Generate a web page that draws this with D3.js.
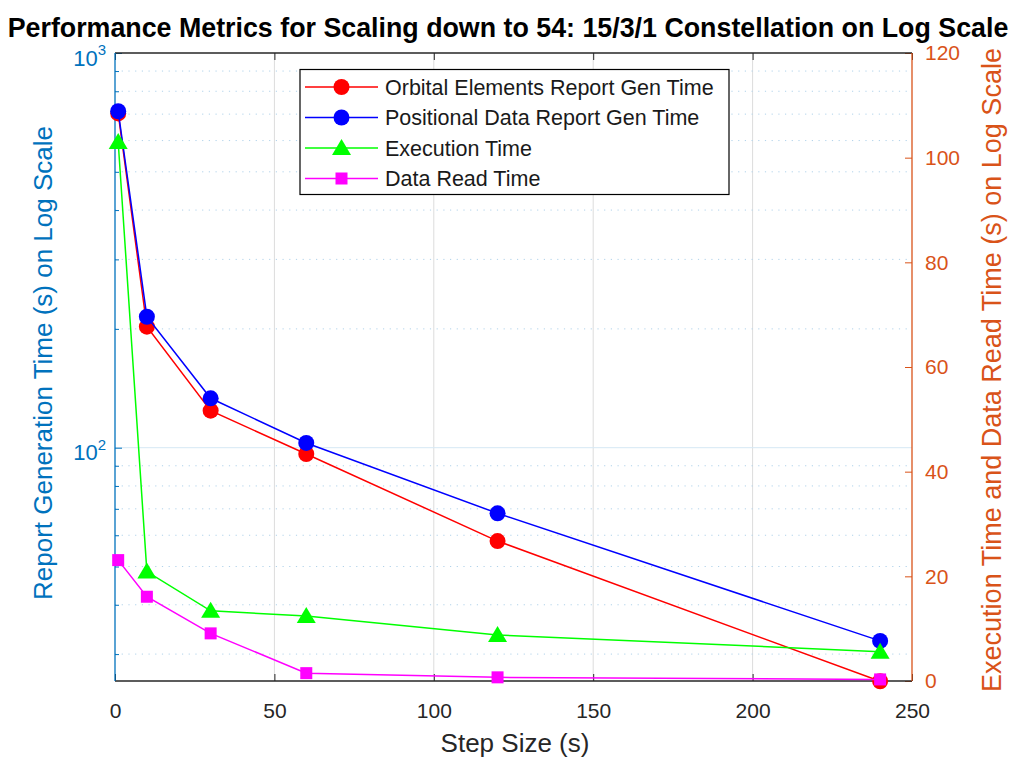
<!DOCTYPE html>
<html><head><meta charset="utf-8">
<script src="https://cdn.jsdelivr.net/npm/d3@7"></script>
<style>
body{margin:0;background:#fff}
text{font-family:"Liberation Sans",Arial,Helvetica,sans-serif}
</style>
</head><body><svg id="c" width="1015" height="758"></svg>
<script>
// ---- data ----
const stepSizes = [1, 10, 30, 60, 120, 240];
const orbitalGen = [703, 202.6, 124.1, 96.4, 58.0, 25.6];
const positionalGen = [712, 214.7, 133.4, 102.8, 68.2, 32.4];
const executionTime = [103.0, 20.9, 13.4, 12.4, 8.8, 5.6];
const dataReadTime = [23.1, 16.1, 9.1, 1.5, 0.7, 0.3];
const xTicks = [0, 50, 100, 150, 200, 250];
const leftMajorTicks = [100, 1000];
const leftMinorTicks = [30, 40, 50, 60, 70, 80, 90, 200, 300, 400, 500, 600, 700, 800, 900];
const rightTicks = [0, 20, 40, 60, 80, 100, 120];
const seriesNames = ["Orbital Elements Report Gen Time", "Positional Data Report Gen Time", "Execution Time", "Data Read Time"];
const titleText = "Performance Metrics for Scaling down to 54: 15/3/1 Constellation on Log Scale";
const xLabel = "Step Size (s)";
const leftLabel = "Report Generation Time (s) on Log Scale";
const rightLabel = "Execution Time and Data Read Time (s) on Log Scale";

// ---- layout ----
const L = 115, R = 912, T = 53, B = 681;
const leftColor = "#0072BD", rightColor = "#D95319", axisGray = "#262626";
const svg = d3.select("#c");
svg.append("rect").attr("width", 1015).attr("height", 758).attr("fill", "#fff");

const x = d3.scaleLinear().domain([0, 250]).range([L, R]);
const yL = d3.scaleLog().domain([25.64, 1000]).range([B, T]);
const yR = d3.scaleLinear().domain([0, 120]).range([B, T]);

// ---- grid ----
const grid = svg.append("g");
grid.selectAll(".vg").data(xTicks.filter(d => d > 0 && d < 250)).join("line")
  .attr("x1", d => x(d)).attr("x2", d => x(d)).attr("y1", T).attr("y2", B)
  .attr("stroke", "#dcdcdc").attr("stroke-width", 1);
grid.selectAll(".mg").data(leftMinorTicks).join("line")
  .attr("x1", L).attr("x2", R).attr("y1", d => yL(d)).attr("y2", d => yL(d))
  .attr("stroke", "#b0d2ea").attr("stroke-width", 1).attr("stroke-dasharray", "1.2 5.5");
grid.selectAll(".hg").data(leftMajorTicks.filter(d => d < 1000)).join("line")
  .attr("x1", L).attr("x2", R).attr("y1", d => yL(d)).attr("y2", d => yL(d))
  .attr("stroke", "#d6e8f4").attr("stroke-width", 1);

// ---- axes ----
function styleAxis(g, color) {
  g.select(".domain").remove();
  g.selectAll(".tick line").attr("stroke", color).attr("stroke-width", 1);
  g.selectAll(".tick text").attr("fill", color).attr("font-family", '"Liberation Sans",Arial,sans-serif').attr("font-size", 21);
}
const xb = svg.append("g").attr("transform", `translate(0,${B})`)
  .call(d3.axisBottom(x).tickValues(xTicks).tickSizeInner(-7).tickSizeOuter(0).tickPadding(22).tickFormat(d3.format("d")));
styleAxis(xb, axisGray);
const xt = svg.append("g").attr("transform", `translate(0,${T})`)
  .call(d3.axisTop(x).tickValues(xTicks).tickSizeInner(-7).tickSizeOuter(0).tickFormat(""));
styleAxis(xt, axisGray);

const yl = svg.append("g").attr("transform", `translate(${L},0)`)
  .call(d3.axisLeft(yL).tickValues(leftMajorTicks).tickSizeInner(-7).tickSizeOuter(0).tickPadding(9).tickFormat(d => d));
styleAxis(yl, leftColor);
yl.selectAll(".tick text").each(function(d) {
  const t = d3.select(this);
  t.text("").attr("dy", "0.55em").attr("font-size", 22);
  t.append("tspan").text("10");
  t.append("tspan").attr("dy", -10.5).attr("font-size", 15).text(Math.round(Math.log10(d)));
});
const ylm = svg.append("g").attr("transform", `translate(${L},0)`)
  .call(d3.axisLeft(yL).tickValues(leftMinorTicks).tickSizeInner(-4).tickSizeOuter(0).tickFormat(""));
styleAxis(ylm, leftColor);

const yr = svg.append("g").attr("transform", `translate(${R},0)`)
  .call(d3.axisRight(yR).tickValues(rightTicks).tickSizeInner(-7).tickSizeOuter(0).tickPadding(13));
styleAxis(yr, rightColor);

// axis lines
svg.append("line").attr("x1", L).attr("x2", R).attr("y1", B).attr("y2", B).attr("stroke", axisGray).attr("stroke-width", 1.3);
svg.append("line").attr("x1", L).attr("x2", R).attr("y1", T).attr("y2", T).attr("stroke", axisGray).attr("stroke-width", 1.3);
svg.append("line").attr("x1", L).attr("x2", L).attr("y1", T).attr("y2", B).attr("stroke", leftColor).attr("stroke-width", 1.3);
svg.append("line").attr("x1", R).attr("x2", R).attr("y1", T).attr("y2", B).attr("stroke", rightColor).attr("stroke-width", 1.3);

// ---- series ----
const triPath = "M0,-9L9.5,7L-9.5,7Z";
const series = [
  { name: seriesNames[0], vals: orbitalGen, y: yL, color: "#FF0000", marker: "circle" },
  { name: seriesNames[1], vals: positionalGen, y: yL, color: "#0000FF", marker: "circle" },
  { name: seriesNames[2], vals: executionTime, y: yR, color: "#00FF00", marker: "tri" },
  { name: seriesNames[3], vals: dataReadTime, y: yR, color: "#FF00FF", marker: "square" }
];
function drawMarker(g, kind, color) {
  if (kind === "circle") g.append("circle").attr("r", 8).attr("fill", color);
  else if (kind === "tri") g.append("path").attr("d", triPath).attr("fill", color);
  else g.append("rect").attr("x", -6).attr("y", -6).attr("width", 12).attr("height", 12).attr("fill", color);
}
series.forEach(s => {
  const pts = stepSizes.map((xv, i) => [x(xv), s.y(s.vals[i])]);
  svg.append("path").attr("d", d3.line()(pts)).attr("fill", "none")
    .attr("stroke", s.color).attr("stroke-width", 1.5);
  pts.forEach(p => {
    const g = svg.append("g").attr("transform", `translate(${p[0]},${p[1]})`);
    drawMarker(g, s.marker, s.color);
  });
});

// ---- legend ----
const lg = svg.append("g");
lg.append("rect").attr("x", 300).attr("y", 69.5).attr("width", 429).attr("height", 125)
  .attr("fill", "#fff").attr("stroke", "#000").attr("stroke-width", 1.2);
series.forEach((s, i) => {
  const cy = 87 + i * 30.5;
  lg.append("line").attr("x1", 305).attr("x2", 378).attr("y1", cy).attr("y2", cy)
    .attr("stroke", s.color).attr("stroke-width", 1.5);
  const g = lg.append("g").attr("transform", `translate(341.5,${cy})`);
  drawMarker(g, s.marker, s.color);
  lg.append("text").attr("x", 385).attr("y", cy).attr("dy", "0.36em")
    .attr("font-size", 21.5).attr("fill", "#1a1a1a").text(s.name);
});

// ---- labels ----
svg.append("text").attr("x", 508).attr("y", 37).attr("text-anchor", "middle")
  .attr("font-size", 26.8).attr("font-weight", "bold").attr("fill", "#000").text(titleText);
svg.append("text").attr("x", 515).attr("y", 752).attr("text-anchor", "middle")
  .attr("font-size", 26).attr("fill", axisGray).text(xLabel);
svg.append("text").attr("transform", "translate(52,363) rotate(-90)").attr("text-anchor", "middle")
  .attr("font-size", 26).attr("fill", leftColor).text(leftLabel);
svg.append("text").attr("transform", "translate(1001,370) rotate(-90)").attr("text-anchor", "middle")
  .attr("font-size", 27).attr("fill", rightColor).text(rightLabel);
</script>
</body></html>
